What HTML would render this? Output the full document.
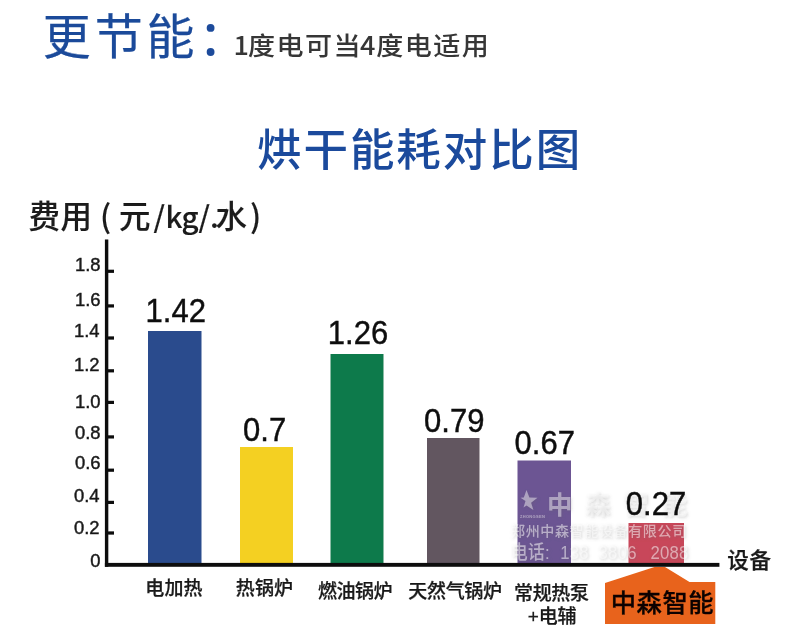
<!DOCTYPE html>
<html lang="zh-CN">
<head>
<meta charset="utf-8">
<title>烘干能耗对比图</title>
<style>
html,body{margin:0;padding:0;background:#fff;}
body{width:800px;height:640px;overflow:hidden;position:relative;}
svg{display:block;position:absolute;left:0;top:0;}
text{font-family:"Liberation Sans","Noto Sans CJK SC",sans-serif;}
.cjk{font-family:"Noto Sans CJK SC","Liberation Sans",sans-serif;}
.num{font-family:"Liberation Sans","Noto Sans CJK SC",sans-serif;}
</style>
</head>
<body>
<svg width="800" height="640" viewBox="0 0 800 640">
  <rect x="0" y="0" width="800" height="640" fill="#ffffff"/>

  <!-- heading -->
  <text class="cjk" x="42.800" y="54.300" font-size="48" font-weight="400" fill="#1b4a9a" stroke="#1b4a9a" stroke-width="0.250" letter-spacing="3.850">更节能</text>
  <circle cx="210.600" cy="27.900" r="3.900" fill="#1d4b9b"/>
  <circle cx="210.600" cy="52" r="3.900" fill="#1d4b9b"/>
  <text class="cjk" transform="translate(0,55) scale(1.070,1)" y="0" font-size="25.300" font-weight="500" fill="#363636" letter-spacing="1.340"><tspan x="218.200">1</tspan><tspan x="231.800">度电可当</tspan><tspan x="336.400">4</tspan><tspan x="351.600">度电适用</tspan></text>

  <!-- chart title -->
  <text class="cjk" x="257" y="166" font-size="44.500" font-weight="500" fill="#1b4a9c" letter-spacing="1.950">烘干能耗对比图</text>

  <defs><filter id="soft" x="-2%" y="-2%" width="104%" height="104%"><feGaussianBlur stdDeviation="0.450"/></filter></defs>
  <g filter="url(#soft)">
  <!-- y axis caption -->
  <text class="cjk" y="228" font-size="31.500" font-weight="500" fill="#1a1a1a" stroke="#1a1a1a" stroke-width="0.150"><tspan x="28.500" letter-spacing="0.500">费用</tspan><tspan x="100">(</tspan><tspan x="119">元</tspan><tspan x="153.500 165.500 181.500 198.500 210" font-size="29.500" font-weight="500">/kg/.</tspan><tspan x="215.500">水</tspan><tspan x="250">)</tspan></text>

  <!-- bars -->
  <rect x="148" y="331" width="53.500" height="233" fill="#2b4b8d"/>
  <rect x="240" y="447" width="53" height="117" fill="#f4d020"/>
  <rect x="330.500" y="354" width="53" height="210" fill="#117a4b"/>
  <rect x="427" y="438" width="52.500" height="126" fill="#625661"/>
  <rect x="517.500" y="460.500" width="53.500" height="103.500" fill="#6c5593"/>
  <rect x="628.500" y="523" width="55.500" height="41" fill="#c8475a"/>

  <!-- axes -->
  <rect x="104.900" y="239.500" width="3.400" height="327.300" fill="#0a0a0a"/>
  <rect x="104.900" y="562.900" width="614.500" height="3.900" fill="#0a0a0a"/>
  <g fill="#0a0a0a">
    <rect x="107" y="269.700" width="7" height="3.200"/>
    <rect x="107" y="304.300" width="7" height="3.200"/>
    <rect x="107" y="336.400" width="7" height="3.200"/>
    <rect x="107" y="369.200" width="7" height="3.200"/>
    <rect x="107" y="400.800" width="7" height="3.200"/>
    <rect x="107" y="435.300" width="7" height="3.200"/>
    <rect x="107" y="468.600" width="7" height="3.200"/>
    <rect x="107" y="500.800" width="7" height="3.200"/>
    <rect x="107" y="531.400" width="7" height="3.200"/>
  </g>

  <!-- y tick labels -->
  <g class="num" font-size="19" fill="#1a1a1a" stroke="#1a1a1a" stroke-width="0.450" text-anchor="end">
    <text transform="translate(100.600,271.400) scale(0.970,1)" x="0" y="0">1.8</text>
    <text transform="translate(100.600,306.400) scale(0.970,1)" x="0" y="0">1.6</text>
    <text transform="translate(99.600,337.400) scale(0.970,1)" x="0" y="0">1.4</text>
    <text transform="translate(99.600,371.300) scale(0.970,1)" x="0" y="0">1.2</text>
    <text transform="translate(100.600,407.600) scale(0.970,1)" x="0" y="0">1.0</text>
    <text transform="translate(100.600,438.700) scale(0.970,1)" x="0" y="0">0.8</text>
    <text transform="translate(100.600,469.000) scale(0.970,1)" x="0" y="0">0.6</text>
    <text transform="translate(99.600,501.700) scale(0.970,1)" x="0" y="0">0.4</text>
    <text transform="translate(99.600,533.500) scale(0.970,1)" x="0" y="0">0.2</text>
    <text transform="translate(100.600,566.800) scale(0.970,1)" x="0" y="0">0</text>
  </g>

  <!-- watermark -->
  <g class="cjk" fill="#ffffff" style="filter:drop-shadow(1px 1px 1.600px rgba(100,100,100,0.550))">
    <g fill-opacity="0.450">
      <polygon points="526.500,490 529.400,497.600 537.500,497.800 531.100,502.700 533.400,510 526.500,505.600 523.500,507.600 525.500,501 520.500,497.800 523.800,497.600"/>
      <text x="520" y="518" font-size="4" font-weight="700" letter-spacing="0.300">ZHONGSEN</text>
      <text x="547" y="513.500" font-size="25.500" font-weight="700" letter-spacing="12.800">中森智能</text>
    </g>
    <g fill-opacity="0.520">
      <text x="511" y="536.300" font-size="14" font-weight="500" letter-spacing="0.650">郑州中森智能设备有限公司</text>
      <text transform="translate(511,559) scale(0.880,1)" y="0" font-size="19" font-weight="500" letter-spacing="0.300"><tspan x="0">电话:</tspan><tspan x="56">138</tspan><tspan x="99.500">3806</tspan><tspan x="158.500">2088</tspan></text>
    </g>
  </g>

  <!-- value labels -->
  <g class="num" font-size="33" fill="#111111" stroke="#111111" stroke-width="0.450" text-anchor="middle">
    <text transform="translate(175.750,322.000) scale(0.940,1)" x="0" y="0">1.42</text>
    <text transform="translate(264.650,441.000) scale(0.940,1)" x="0" y="0">0.7</text>
    <text transform="translate(358.000,344.000) scale(0.940,1)" x="0" y="0">1.26</text>
    <text transform="translate(454.250,431.600) scale(0.940,1)" x="0" y="0">0.79</text>
    <text transform="translate(544.750,453.600) scale(0.940,1)" x="0" y="0">0.67</text>
    <text transform="translate(656.000,514.600) scale(0.940,1)" x="0" y="0">0.27</text>
  </g>

  <!-- x labels -->
  <g class="cjk" font-size="19" font-weight="500" fill="#1a1a1a" stroke="#1a1a1a" stroke-width="0.250" text-anchor="middle">
    <text x="174" y="594.800" letter-spacing="0.200">电加热</text>
    <text x="264.500" y="595" letter-spacing="0.200">热锅炉</text>
    <text x="355" y="598" letter-spacing="-0.500">燃油锅炉</text>
    <text x="455" y="598" letter-spacing="-0.300">天然气锅炉</text>
    <text x="551.300" y="600" letter-spacing="-0.400">常规热泵</text>
    <text x="552" y="623.300" letter-spacing="-0.200">+电辅</text>
  </g>
  <text class="cjk" x="727.300" y="567.700" font-size="21.500" font-weight="500" fill="#1a1a1a" stroke="#1a1a1a" stroke-width="0.300" letter-spacing="0.700">设备</text>

  <!-- orange tag -->
  <polygon points="605,624 605,583 654.500,567 665,567 689.500,582 715.300,582 715.300,624" fill="#e8631a"/>
  <text class="cjk" x="662.400" y="611.700" font-size="25.300" font-weight="500" fill="#0a0503" stroke="#0a0503" stroke-width="0.300" text-anchor="middle" letter-spacing="0.500">中森智能</text>

  </g>
</svg>
</body>
</html>
